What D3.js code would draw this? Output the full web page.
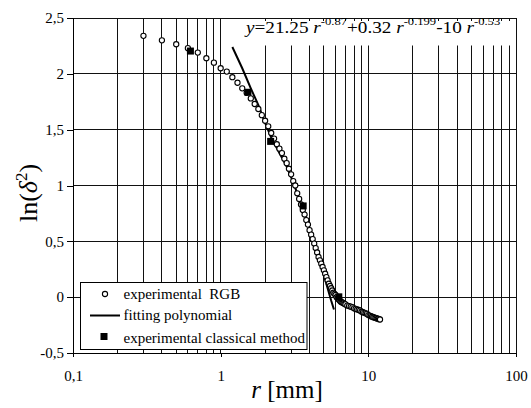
<!DOCTYPE html>
<html>
<head>
<meta charset="utf-8">
<script src="https://cdn.jsdelivr.net/npm/d3@7"></script>
<style>
  body { margin: 0; background: #fff; }
  text { font-family: "Liberation Serif", "Times New Roman", serif; fill: #000; }
</style>
</head>
<body>
<script>
// experimental RGB points (r in mm, ln(delta^2))
var rgbR = [0.3, 0.4, 0.5, 0.6, 0.7, 0.8, 0.9, 1.0, 1.1, 1.2, 1.3, 1.4, 1.5, 1.6, 1.7, 1.8, 1.9, 2.0,
            2.1, 2.2, 2.3, 2.4, 2.5, 2.6, 2.7, 2.8, 2.9, 3.0, 3.1, 3.2, 3.3, 3.4, 3.5, 3.6, 3.7, 3.8, 3.9, 4.0,
            4.1, 4.2, 4.3, 4.4, 4.5, 4.6, 4.7, 4.8, 4.9, 5.0, 5.1, 5.2, 5.3, 5.4, 5.5, 5.6, 5.7, 5.8, 5.9, 6.0,
            6.1, 6.2, 6.3, 6.4, 6.5, 6.6, 6.7, 6.8, 6.9, 7.0, 7.2, 7.4, 7.6, 7.8, 8.0, 8.2, 8.4, 8.6, 8.8, 9.0,
            9.2, 9.4, 9.6, 9.8, 10.0, 10.2, 10.4, 10.6, 10.8, 11.0, 11.2, 11.4, 11.6, 11.8, 12.0];
var rgbLn = [2.34, 2.30, 2.265, 2.23, 2.19, 2.14, 2.10, 2.05, 2.02, 1.97, 1.92, 1.87, 1.83, 1.78, 1.73, 1.685, 1.63, 1.58,
             1.53, 1.47, 1.42, 1.37, 1.33, 1.29, 1.24, 1.20, 1.15, 1.10, 1.04, 1.00, 0.93, 0.88, 0.83, 0.78, 0.74, 0.69, 0.65, 0.60,
             0.56, 0.52, 0.48, 0.44, 0.40, 0.36, 0.33, 0.30, 0.27, 0.24, 0.21, 0.18, 0.15, 0.12, 0.10, 0.08, 0.06, 0.04, 0.03, 0.02,
             0.0, -0.01, -0.02, -0.03, -0.04, -0.045, -0.05, -0.055, -0.06, -0.065, -0.075, -0.08, -0.085, -0.09, -0.10, -0.105, -0.11, -0.115, -0.12, -0.13,
             -0.135, -0.14, -0.145, -0.15, -0.16, -0.165, -0.17, -0.175, -0.18, -0.183, -0.186, -0.19, -0.193, -0.197, -0.20];

// fitting polynomial
var fitR  = [1.2, 1.4, 1.6, 1.8, 2.0, 2.2, 2.5, 2.8, 3.1, 3.4, 3.8, 4.2, 4.6, 5.0, 5.3, 5.6, 5.85];
var fitLn = [2.24, 2.05, 1.87, 1.72, 1.56, 1.43, 1.29, 1.17, 1.03, 0.88, 0.70, 0.53, 0.37, 0.20, 0.08, -0.03, -0.11];

// experimental classical method
var clsR  = [0.624, 1.53, 2.18, 3.62, 6.31];
var clsLn = [2.204, 1.835, 1.395, 0.817, 0.003];

var xTicks = [0.1, 1, 10, 100];
var xTickLabels = ["0,1", "1", "10", "100"];
var yTicks = [-0.5, 0, 0.5, 1, 1.5, 2, 2.5];
var yTickLabels = ["-0,5", "0", "0,5", "1", "1,5", "2", "2,5"];
var xMinor = [0.2, 0.3, 0.4, 0.5, 0.6, 0.7, 0.8, 0.9, 1, 2, 3, 4, 5, 6, 7, 8, 9, 10, 20, 30, 40, 50, 60, 70, 80, 90, 100];
var legendLabels = ["experimental  RGB", "fitting polynomial", "experimental classical method"];

var margin = {top: 18, right: 15, bottom: 55, left: 73}
  , width = 531 - margin.left - margin.right
  , height = 408 - margin.top - margin.bottom;

var xScale = d3.scaleLog().domain([0.1, 100]).range([0, width]);
var yScale = d3.scaleLinear().domain([-0.5, 2.5]).range([height, 0]);

var svg = d3.select("body").append("svg")
    .attr("width", 531)
    .attr("height", 408)
  .append("g")
    .attr("transform", "translate(" + margin.left + "," + margin.top + ")");

// grid
svg.append("g").attr("shape-rendering", "crispEdges")
  .selectAll("line").data(xMinor).enter().append("line")
    .attr("x1", function(d) { return xScale(d); })
    .attr("x2", function(d) { return xScale(d); })
    .attr("y1", 0).attr("y2", height)
    .attr("stroke", "#111").attr("stroke-width", 1);

svg.append("g").attr("shape-rendering", "crispEdges")
  .selectAll("line").data(yTicks).enter().append("line")
    .attr("x1", 0).attr("x2", width)
    .attr("y1", function(d) { return yScale(d); })
    .attr("y2", function(d) { return yScale(d); })
    .attr("stroke", "#111").attr("stroke-width", 1);

// axes
var xAxis = svg.append("g")
    .attr("transform", "translate(0," + height + ")")
    .call(d3.axisBottom(xScale).tickValues(xTicks).tickSize(4).tickPadding(13)
      .tickFormat(function(d, i) { return xTickLabels[i]; }));
var yAxis = svg.append("g")
    .call(d3.axisLeft(yScale).tickValues(yTicks).tickSize(6).tickPadding(3)
      .tickFormat(function(d, i) { return yTickLabels[i]; }));
[xAxis, yAxis].forEach(function(a) {
  a.attr("shape-rendering", "crispEdges");
  a.select(".domain").attr("stroke", "#000");
  a.selectAll("text").style("font-family", "'Liberation Serif', serif").style("font-size", "15px");
});

// equation box
svg.append("rect")
    .attr("x", 170).attr("y", 3).attr("width", 270).attr("height", 24.5)
    .attr("fill", "#fff");
var eq = svg.append("text")
    .attr("transform", "translate(173,15) scale(1.2,1)")
    .style("font-size", "16px");
var eqParts = [
  ["y", "i"], ["=21.25 ", "n"], ["r", "i"], ["-0.87", "s"],
  ["+0.32 ", "n"], ["r", "i"], ["-0.199", "s"],
  ["-10 ", "n"], ["r", "i"], ["-0.53", "s"]
];
var up = false;
eqParts.forEach(function(p) {
  var t = eq.append("tspan").text(p[0]).style("white-space", "pre");
  if (p[1] == "i") t.style("font-style", "italic");
  if (p[1] == "s") { t.attr("dy", -8).style("font-size", "10.5px"); up = true; }
  else if (up) { t.attr("dy", 8); up = false; }
});

// fitting line
var line = d3.line()
    .x(function(d, i) { return xScale(fitR[i]); })
    .y(function(d, i) { return yScale(d); });
svg.append("path")
    .attr("d", line(fitLn))
    .attr("fill", "none").attr("stroke", "#000").attr("stroke-width", 2);

// RGB circles
svg.append("g").selectAll("circle").data(rgbLn).enter().append("circle")
    .attr("cx", function(d, i) { return xScale(rgbR[i]); })
    .attr("cy", function(d) { return yScale(d); })
    .attr("r", 2.6)
    .attr("fill", "#fff").attr("stroke", "#000").attr("stroke-width", 1.1);

// classical squares
svg.append("g").selectAll("rect").data(clsLn).enter().append("rect")
    .attr("x", function(d, i) { return xScale(clsR[i]) - 3.5; })
    .attr("y", function(d) { return yScale(d) - 3.5; })
    .attr("width", 7).attr("height", 7)
    .attr("fill", "#000");

// legend
var lg = svg.append("g").attr("transform", "translate(" + (80.5 - margin.left) + "," + (282.5 - margin.top) + ")");
lg.append("rect").attr("width", 226.5).attr("height", 67)
    .attr("fill", "#fff").attr("stroke", "#000").attr("stroke-width", 1);
lg.append("circle").attr("cx", 24.5).attr("cy", 11.5).attr("r", 2.6)
    .attr("fill", "#fff").attr("stroke", "#000").attr("stroke-width", 1.1);
lg.append("line").attr("x1", 9.5).attr("x2", 39.5).attr("y1", 33).attr("y2", 33)
    .attr("stroke", "#000").attr("stroke-width", 2);
lg.append("rect").attr("x", 20).attr("y", 50.5).attr("width", 7).attr("height", 7).attr("fill", "#000");
lg.selectAll("text.lab").data(legendLabels).enter().append("text")
    .attr("x", 43)
    .attr("y", function(d, i) { return [16.5, 37, 60][i]; })
    .style("font-size", "15px")
    .style("white-space", "pre")
    .text(function(d) { return d; });

// axis titles
var xt = svg.append("text")
    .attr("transform", "translate(" + (287 - margin.left) + "," + (398 - margin.top) + ")")
    .style("text-anchor", "middle")
    .style("font-size", "25px");
xt.append("tspan").style("font-style", "italic").text("r");
xt.append("tspan").text(" [mm]");

var yt = svg.append("text")
    .attr("transform", "translate(" + (37 - margin.left) + "," + (193 - margin.top) + ") rotate(-90)")
    .style("text-anchor", "middle")
    .style("font-size", "26px");
yt.append("tspan").text("ln(");
yt.append("tspan").style("font-style", "italic").text("δ");
yt.append("tspan").attr("dy", -10).style("font-size", "17px").text("2");
yt.append("tspan").attr("dy", 10).text(")");
</script>
</body>
</html>
